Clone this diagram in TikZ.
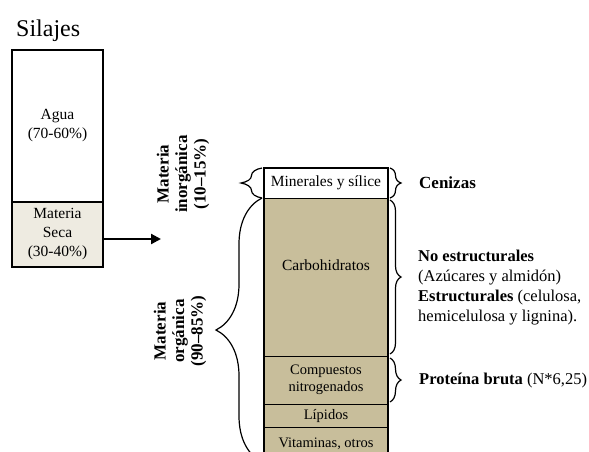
\documentclass[tikz,border=0pt]{standalone}
\usepackage{fontspec}
\setmainfont{Liberation Serif}
\usetikzlibrary{calc,positioning,arrows.meta,decorations.pathreplacing}

\definecolor{seco}{RGB}{238,235,225}
\definecolor{tierra}{RGB}{200,190,155}

\tikzset{
  caja/.style={rectangle, draw, line width=1.6pt, minimum width=91pt, align=center,
    inner sep=0pt, font=\fontsize{15.5}{19}\selectfont},
  capa/.style={rectangle, draw, line width=0.6pt, fill=tierra, minimum width=124pt,
    align=center, inner sep=0pt, outer sep=0pt, font=\fontsize{14.5}{16.5}\selectfont},
  llave/.style={decorate, decoration={brace, amplitude=#1}, line width=1.2pt},
  rotulo/.style={rotate=90, align=center, font=\bfseries\fontsize{17}{18.5}\selectfont},
  nota/.style={anchor=west, align=left, inner sep=0pt, font=\fontsize{16.5}{20}\selectfont},
}

\begin{document}
\begin{tikzpicture}[x=1pt,y=-1pt]
  \useasboundingbox (0,0) rectangle (589,451);
  \node [anchor=base west, inner sep=0pt, font=\fontsize{24}{28}\selectfont] (titulo) at (16,36) {Silajes};

  % silaje entero
  \node [caja, minimum height=152pt] (agua) at (57.5,126) {Agua\\(70-60\%)};
  \node [caja, fill=seco, minimum height=65pt] (seca) at (57.5,234.5) {Materia\\Seca\\(30-40\%)};
  \coordinate (fin) at (161,239);
  \draw [-{Triangle[length=10pt,width=10pt]}, line width=2.2pt] (seca.east |- fin) -- (fin);

  % materia seca
  \node [capa, fill=white, minimum height=30pt, font=\fontsize{15.5}{17}\selectfont] (minerales) at (326,183) {Minerales y sílice};
  \node [capa, minimum height=158pt, text depth=24pt, below=0pt of minerales, font=\fontsize{15.5}{17}\selectfont] (carbo) {Carbohidratos};
  \node [capa, minimum height=48pt, below=0pt of carbo] (compuestos) {Compuestos\\nitrogenados};
  \node [capa, minimum height=23pt, below=0pt of compuestos] (lipidos) {Lípidos};
  \node [capa, minimum height=34pt, below=0pt of lipidos] (vitaminas) {Vitaminas, otros};
  \draw [line width=1.6pt] (minerales.north west) rectangle (vitaminas.south east);

  % llaves izquierda
  \coordinate (fondo) at (262,462);
  \draw [llave=21pt] ([xshift=-2pt]minerales.south west) -- ([xshift=-2pt]minerales.north west);
  \draw [llave=46pt] (fondo) -- ([xshift=-2pt]carbo.north west);
  \node [rotulo] (inorg) at (183,174) {Materia\\inorgánica\\(10--15\%)};
  \node [rotulo] (org) at (180,331) {Materia\\orgánica\\(90--85\%)};

  % llaves derecha
  \draw [llave=11pt] ([xshift=2pt]minerales.north east) -- ([xshift=2pt]minerales.south east);
  \draw [llave=11pt] ([xshift=2pt,yshift=-2pt]carbo.north east) -- ([xshift=2pt,yshift=2pt]carbo.south east);
  \draw [llave=11pt] ([xshift=2pt,yshift=-2pt]compuestos.north east) -- ([xshift=2pt,yshift=2pt]compuestos.south east);
  \node [nota, font=\bfseries\fontsize{17}{20}\selectfont] (cenizas) at (419,183) {Cenizas};
  \node [nota] (fibra) at (418,288) {\textbf{No estructurales}\\(Azúcares y almidón)\\\textbf{Estructurales} (celulosa,\\hemicelulosa y lignina).};
  \node [nota] (proteina) at (419,381) {\textbf{Proteína bruta} (N*6,25)};
\end{tikzpicture}
\end{document}
